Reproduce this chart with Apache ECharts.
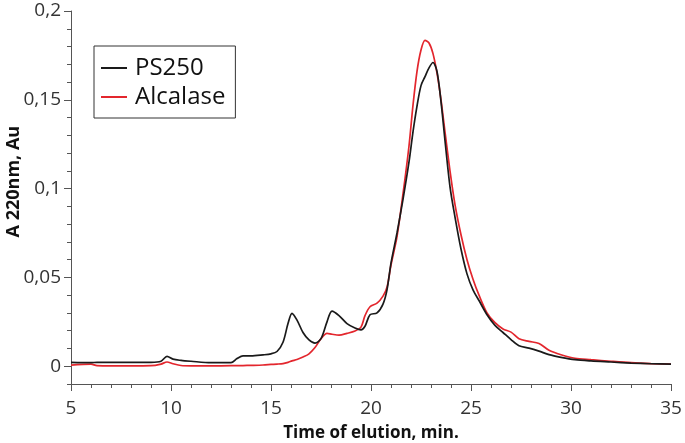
<!DOCTYPE html>
<html>
<head>
<meta charset="utf-8">
<script src="https://cdn.jsdelivr.net/npm/echarts@6/dist/echarts.min.js"></script>
<style>html,body{margin:0;padding:0;background:#fff;}#chart{width:685px;height:443px;}</style>
</head>
<body>
<div id="chart"></div>
<script>
// Time of elution, min.
var times = [5, 6, 6.3, 7, 8, 9, 9.5, 9.8, 10.1, 10.5, 11, 12, 13, 13.3, 13.6, 14, 14.6, 15, 15.3, 15.6, 15.85, 16.05, 16.3, 16.6, 16.9, 17.2, 17.5, 17.8, 18.05, 18.4, 18.8, 19.2, 19.5, 19.7, 19.95, 20.3, 20.6, 20.8, 21.0, 21.3, 21.6, 21.9, 22.1, 22.3, 22.5, 22.7, 22.9, 23.1, 23.3, 23.5, 23.7, 23.95, 24.2, 24.5, 24.8, 25.1, 25.4, 25.8, 26.2, 26.6, 27.0, 27.4, 27.9, 28.4, 28.9, 29.5, 30.2, 31, 32, 33, 34, 35];
// A 220nm, Au
var ps250 = [0.0022, 0.002, 0.0022, 0.0022, 0.0022, 0.0022, 0.0028, 0.0056, 0.004, 0.0033, 0.0028, 0.002, 0.002, 0.0043, 0.0058, 0.0058, 0.0064, 0.007, 0.0083, 0.0135, 0.024, 0.0298, 0.026, 0.019, 0.0148, 0.013, 0.0155, 0.025, 0.031, 0.0285, 0.024, 0.0215, 0.0205, 0.0225, 0.029, 0.030, 0.035, 0.043, 0.058, 0.075, 0.094, 0.115, 0.132, 0.1465, 0.158, 0.163, 0.168, 0.171, 0.166, 0.149, 0.127, 0.101, 0.084, 0.066, 0.052, 0.043, 0.037, 0.029, 0.023, 0.019, 0.015, 0.0115, 0.0102, 0.0085, 0.0065, 0.005, 0.0037, 0.003, 0.0024, 0.0018, 0.0014, 0.0012];
var alcalase = [0.0006, 0.0012, 0.0003, 0.0002, 0.0002, 0.0003, 0.0012, 0.0024, 0.0014, 0.0004, 0.0002, 0.0002, 0.0003, 0.0003, 0.0004, 0.0005, 0.0007, 0.001, 0.0012, 0.0015, 0.0022, 0.003, 0.0038, 0.0052, 0.007, 0.0105, 0.0155, 0.0185, 0.018, 0.0175, 0.0185, 0.0198, 0.022, 0.0285, 0.0335, 0.0355, 0.0395, 0.0445, 0.057, 0.073, 0.097, 0.124, 0.147, 0.166, 0.178, 0.1835, 0.182, 0.176, 0.165, 0.150, 0.132, 0.110, 0.091, 0.074, 0.060, 0.049, 0.04, 0.030, 0.0245, 0.021, 0.0192, 0.0155, 0.014, 0.0128, 0.009, 0.0065, 0.0045, 0.0037, 0.0028, 0.002, 0.0015, 0.0012];
var seriesNames = ['PS250', 'Alcalase'];
var xTicks = [5, 10, 15, 20, 25, 30, 35];
var yTicks = [0, 0.05, 0.1, 0.15, 0.2];

function pairs(xs, ys) { return xs.map(function (x, i) { return [x, ys[i]]; }); }

var FONT = '"Open Sans", "DejaVu Sans", sans-serif';
var AX = '#555';
var chart = echarts.init(document.getElementById('chart'), null, {renderer: 'canvas'});
var chartH = 443, gridTop = 11, gridBottom = 59;
var plotH = chartH - gridTop - gridBottom;
var grid1Bottom = chartH - gridTop - plotH * (0.2 / 0.21);

chart.setOption({
  animation: false,
  backgroundColor: '#fff',
  grid: [
    {left: 71, right: 14, top: gridTop, bottom: gridBottom, containLabel: false, outerBoundsMode: 'none'},
    {left: 71, right: 14, top: gridTop, bottom: grid1Bottom, containLabel: false, outerBoundsMode: 'none'}
  ],
  legend: {
    left: 94, top: 46, orient: 'vertical',
    data: seriesNames,
    borderColor: '#333', borderWidth: 1, borderRadius: 0,
    padding: [10, 10, 9, 7],
    itemWidth: 26, itemHeight: 2, itemGap: 5,
    icon: 'rect',
    textStyle: {fontFamily: FONT, fontSize: 24, color: '#111', padding: [0, 0, 0, 3]}
  },
  xAxis: [
    {
      type: 'value', gridIndex: 0, min: xTicks[0], max: xTicks[xTicks.length - 1], interval: 5,
      name: 'Time of elution, min.', nameLocation: 'middle', nameGap: 41, nameMoveOverlap: false,
      nameTextStyle: {fontFamily: FONT, fontSize: 17, fontWeight: 'bold', color: '#111'},
      axisLine: {show: true, onZero: false, lineStyle: {color: AX, width: 1}},
      axisTick: {show: true, length: 7, lineStyle: {color: AX}},
      minorTick: {show: true, splitNumber: 5, length: 4, lineStyle: {color: AX}},
      splitLine: {show: false}, minorSplitLine: {show: false},
      axisLabel: {fontFamily: FONT, fontSize: 19, color: '#333', margin: 15}
    },
    {type: 'value', gridIndex: 1, min: 5, max: 35, show: false}
  ],
  yAxis: [
    {
      type: 'value', gridIndex: 0, min: -0.01, max: 0.2, interval: 0.01,
      axisLine: {show: true, onZero: false, lineStyle: {color: AX, width: 1}},
      axisTick: {show: true, length: 4, lineStyle: {color: AX}},
      axisLabel: {show: false},
      splitLine: {show: false}
    },
    {
      type: 'value', gridIndex: 1, min: yTicks[0], max: yTicks[yTicks.length - 1], interval: 0.05,
      name: 'A 220nm, Au', nameLocation: 'middle', nameGap: 48, nameMoveOverlap: false,
      nameTextStyle: {fontFamily: FONT, fontSize: 18, fontWeight: 'bold', color: '#111', padding: [0, 0, 0, 14]},
      axisLine: {show: false},
      axisTick: {show: true, length: 7, lineStyle: {color: AX}},
      axisLabel: {fontFamily: FONT, fontSize: 19, color: '#333', margin: 10,
        formatter: function (v) { return String(+v.toFixed(2)).replace('.', ','); }},
      splitLine: {show: false}
    }
  ],
  series: [
    {
      name: seriesNames[0], type: 'line', xAxisIndex: 0, yAxisIndex: 0,
      data: pairs(times, ps250), smooth: 0.3, symbol: 'none',
      lineStyle: {color: '#1a1a1a', width: 1.7}, itemStyle: {color: '#1a1a1a'}, z: 3
    },
    {
      name: seriesNames[1], type: 'line', xAxisIndex: 0, yAxisIndex: 0,
      data: pairs(times, alcalase), smooth: 0.3, symbol: 'none',
      lineStyle: {color: '#e3262d', width: 1.7}, itemStyle: {color: '#e3262d'}, z: 2
    }
  ]
});
</script>
</body>
</html>
